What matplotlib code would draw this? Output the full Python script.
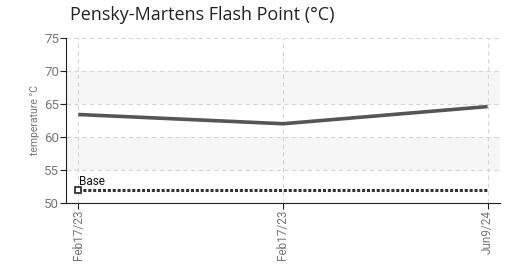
import matplotlib
matplotlib.use("Agg")
import matplotlib.pyplot as plt

dates = ["Feb17/23", "Feb17/23", "Jun9/24"]
values = [63.4, 62.0, 64.6]
base_values = [52, 52, 52]
yticks = [50, 55, 60, 65, 70, 75]

fig = plt.figure(figsize=(5.08, 2.65), dpi=100)
ax = fig.add_axes([0.130, 0.234, 0.854, 0.623])
x = list(range(len(dates)))

for lo, hi in [(55, 60), (65, 70)]:
    ax.axhspan(lo, hi, color="#f6f6f6", zorder=0, lw=0)

ax.plot(x, values, color="#555555", lw=2.6, solid_capstyle="butt", zorder=3)
ax.plot(x, base_values, color="#333333", lw=2.2, ls=(0, (1, 0.6)), zorder=3)
ax.plot([x[0]], [base_values[0]], marker="s", ms=4.5, mfc="white", mec="#222222", mew=1.2, zorder=4)
ax.text(x[0] + 0.005, base_values[0] + 0.3, "Base", fontsize=8.5, family="Roboto", color="#111111", va="bottom", ha="left")

ax.set_xlim(-0.06, 2.06)
ax.set_ylim(50, 75)
ax.set_yticks(yticks)
ax.set_xticks(x)
ax.set_xticklabels(dates, rotation=90, fontsize=8.5, family="Roboto", color="#777777")
ax.set_yticklabels([str(t) for t in yticks], fontsize=9.5, family="Roboto", color="#777777")
ax.grid(True, ls=(0, (4, 3)), color="#d6d6d6", lw=0.8)
ax.set_axisbelow(True)
for s in ["top", "right"]:
    ax.spines[s].set_visible(False)
ax.spines["left"].set_color("#222222")
ax.spines["bottom"].set_color("#222222")
ax.tick_params(axis="both", length=4, color="#222222", pad=1)
ax.set_ylabel("temperature °C", fontsize=7.5, family="Roboto", color="#777777", labelpad=3)
fig.text(0.138, 0.925, "Pensky-Martens Flash Point (°C)", fontsize=13, family="Open Sans", color="#222222", ha="left", va="baseline")

fig.savefig("out.png", dpi=100)
